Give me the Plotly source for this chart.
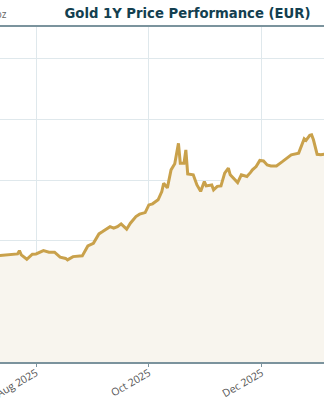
import plotly.graph_objects as go

dates = [
    "2025-07-11", "2025-07-17", "2025-07-22", "2025-07-23", "2025-07-24", "2025-07-27", "2025-07-30",
    "2025-08-01", "2025-08-05", "2025-08-08", "2025-08-11", "2025-08-14", "2025-08-17", "2025-08-18",
    "2025-08-21", "2025-08-26", "2025-08-29", "2025-09-01", "2025-09-04", "2025-09-06", "2025-09-08",
    "2025-09-10", "2025-09-12", "2025-09-14", "2025-09-16", "2025-09-19", "2025-09-21", "2025-09-24",
    "2025-09-26", "2025-09-29", "2025-10-01", "2025-10-03", "2025-10-06", "2025-10-08", "2025-10-09",
    "2025-10-11", "2025-10-13", "2025-10-15", "2025-10-17", "2025-10-18", "2025-10-20", "2025-10-21",
    "2025-10-22", "2025-10-25", "2025-10-27", "2025-10-29", "2025-10-31", "2025-11-01", "2025-11-04",
    "2025-11-05", "2025-11-07", "2025-11-09", "2025-11-11", "2025-11-13", "2025-11-14", "2025-11-16",
    "2025-11-18", "2025-11-20", "2025-11-23", "2025-11-25", "2025-11-26", "2025-11-28", "2025-11-30",
    "2025-12-02", "2025-12-04", "2025-12-06", "2025-12-09", "2025-12-12", "2025-12-15", "2025-12-17",
    "2025-12-21", "2025-12-23", "2025-12-24", "2025-12-25", "2025-12-27", "2025-12-28", "2025-12-29",
    "2025-12-31", "2026-01-02", "2026-01-04", "2026-01-06",
]
prices_eur = [
    2875, 2883, 2891, 2918, 2883, 2847, 2889,
    2891, 2918, 2905, 2905, 2864, 2854, 2842,
    2869, 2875, 2957, 2979, 3056, 3075, 3095,
    3116, 3103, 3116, 3139, 3095, 3144, 3199,
    3219, 3232, 3295, 3304, 3337, 3405, 3474,
    3436, 3584, 3634, 3803, 3639, 3639, 3749,
    3551, 3543, 3460, 3407, 3488, 3452, 3460,
    3419, 3448, 3452, 3557, 3598, 3543, 3510,
    3479, 3543, 3529, 3563, 3584, 3611, 3662,
    3657, 3625, 3617, 3617, 3650, 3681, 3708,
    3722, 3811, 3840, 3827, 3869, 3873, 3832,
    3712, 3708, 3714, 3716,
]
x_window = ["2025-07-12 12:00", "2026-01-03 17:00"]
y_window = [2000, 4762]
y_ticks = [2000, 2500, 3000, 3500, 4000, 4500]

fig = go.Figure()
fig.add_trace(go.Scatter(
    x=dates, y=prices_eur, mode="lines",
    line=dict(color="#c9a14b", width=3),
    fill="tozeroy", fillcolor="#f8f5ee",
    hoverinfo="skip", showlegend=False,
))

fig.update_layout(
    width=324, height=400,
    margin=dict(l=0, r=0, t=27, b=38, autoexpand=False),
    paper_bgcolor="white", plot_bgcolor="white",
    title=dict(
        text="<b>Gold 1Y Price Performance (EUR)</b>",
        x=187.5 / 324, xanchor="center",
        y=1 - 13 / 400, yanchor="middle", yref="container",
        font=dict(family="DejaVu Sans Condensed, DejaVu Sans", size=14.7, color="#133f50"),
    ),
    xaxis=dict(
        range=x_window, type="date", automargin=False,
        tick0="2025-08-01", dtick="M2", tickformat="%b %Y",
        tickangle=-30, ticks="outside", ticklen=3, tickcolor="#7b939d",
        ticklabeloverflow="allow", ticklabelstandoff=-4,
        tickfont=dict(family="Open Sans", size=10.5, color="#555555"),
        showgrid=True, gridcolor="#dfe8ec", gridwidth=1,
        showline=True, linecolor="#7b939d", linewidth=2, mirror=True,
        zeroline=False,
    ),
    yaxis=dict(
        range=y_window, tickvals=y_ticks, showticklabels=False,
        automargin=False,
        showgrid=True, gridcolor="#dfe8ec", gridwidth=1,
        showline=False, zeroline=False, ticks="",
    ),
    annotations=[dict(
        text="EUR/oz", xref="paper", yref="paper",
        x=9 / 324, y=1, xanchor="right", yanchor="bottom", yshift=4,
        showarrow=False,
        font=dict(family="Open Sans", size=10, color="#666666"),
    )],
)

fig.write_html("out.html")
